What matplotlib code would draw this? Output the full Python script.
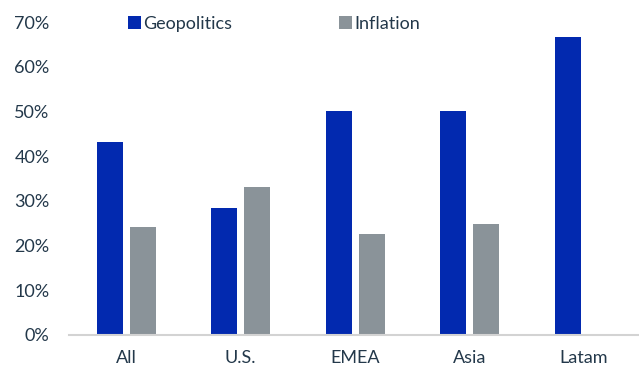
import numpy as np
import matplotlib.pyplot as plt
from matplotlib.ticker import PercentFormatter

regions = ['All', 'U.S.', 'EMEA', 'Asia', 'Latam']
geopolitics = [43.2, 28.4, 50.0, 50.0, 66.7]
inflation = [24.2, 33.1, 22.5, 24.8, 0.0]

plt.rcParams['font.family'] = ['Lato', 'DejaVu Sans']

blue = '#0229AF'
grey = '#8A9399'
txt = '#23384A'

fig = plt.figure(figsize=(6.39, 3.70), dpi=100)
ax = fig.add_axes([0.108, 0.0946, 0.892, 0.8459])

x = np.arange(len(regions))
w = 0.227
off = 0.144
ax.bar(x - off, geopolitics, width=w, color=blue, label='Geopolitics')
ax.bar(x + off, inflation, width=w, color=grey, label='Inflation')

ax.set_xlim(-0.5, 4.48)
ax.set_ylim(0, 70)
ax.set_yticks(range(0, 71, 10))
ax.yaxis.set_major_formatter(PercentFormatter(decimals=0))
ax.set_xticks(x)
ax.set_xticklabels(regions)

for s in ['top', 'right', 'left']:
    ax.spines[s].set_visible(False)
ax.spines['bottom'].set_color('#D3D3D3')
ax.spines['bottom'].set_linewidth(1.5)
ax.tick_params(axis='both', length=0, labelsize=13, colors=txt)
ax.tick_params(axis='y', pad=14)
ax.tick_params(axis='x', pad=11)

ax.legend(loc='upper left', bbox_to_anchor=(0.075, 1.072), ncol=2, frameon=False,
          fontsize=13, labelcolor=txt, handlelength=0.7, handleheight=0.7,
          handletextpad=0.15, columnspacing=5.9)

plt.savefig('out.png', dpi=100)
